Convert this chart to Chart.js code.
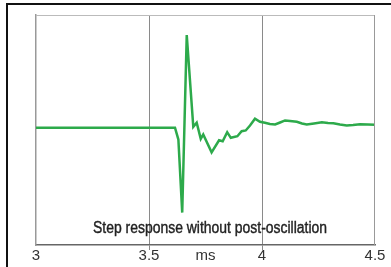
<!DOCTYPE html>
<html>
<head>
<meta charset="utf-8">
<script src="https://cdn.jsdelivr.net/npm/chart.js@4/dist/chart.umd.min.js"></script>
<style>
  html, body { margin: 0; padding: 0; background: #fff; }
  #wrap { width: 391px; height: 267px; }
</style>
</head>
<body>
<div id="wrap"><canvas id="stepChart" width="391" height="267"></canvas></div>
<script>
// time axis (ms) and response amplitude
const timeMs = [3.000, 3.615, 3.630, 3.647, 3.667, 3.696, 3.711, 3.729, 3.740, 3.777,
                3.810, 3.826, 3.846, 3.862, 3.891, 3.910, 3.928, 3.947, 3.969, 3.991,
                4.013, 4.035, 4.058, 4.080, 4.102, 4.124, 4.154, 4.177, 4.198, 4.230,
                4.265, 4.292, 4.316, 4.345, 4.375, 4.403, 4.434, 4.469, 4.500];
const amplitude = [0.000, 0.000, -0.103, -0.738, 0.805, 0.008, 0.043, -0.097, -0.059, -0.214,
                   -0.109, -0.118, -0.039, -0.088, -0.074, -0.031, -0.024, 0.019, 0.078, 0.052,
                   0.043, 0.032, 0.028, 0.045, 0.063, 0.059, 0.052, 0.037, 0.028, 0.037,
                   0.048, 0.041, 0.039, 0.028, 0.019, 0.024, 0.031, 0.028, 0.026];
const tickValues = [3, 3.5, 3.75, 4, 4.5];
const tickLabels = ['3', '3.5', 'ms', '4', '4.5'];
const gridValues = [3.5, 4];
const caption = 'Step response without post-oscillation';

const points = timeMs.map((t, i) => ({ x: t, y: amplitude[i] }));

const framePlugin = {
    id: 'frame',
    afterDraw(chart) {
        const ctx = chart.ctx;
        const area = chart.chartArea;
        ctx.save();
        // outer black frame (top + left)
        ctx.strokeStyle = '#111';
        ctx.lineWidth = 2;
        ctx.beginPath();
        ctx.moveTo(7, chart.height);
        ctx.lineTo(7, 4);
        ctx.lineTo(chart.width, 4);
        ctx.stroke();
        // plot box top and right
        ctx.lineWidth = 1;
        ctx.strokeStyle = '#bbb';
        ctx.beginPath();
        ctx.moveTo(area.left, area.top + 0.5);
        ctx.lineTo(area.right, area.top + 0.5);
        ctx.stroke();
        ctx.strokeStyle = '#999';
        ctx.beginPath();
        ctx.moveTo(area.right - 0.5, area.top);
        ctx.lineTo(area.right - 0.5, area.bottom);
        ctx.stroke();
        // caption, squeezed to a condensed look
        ctx.fillStyle = '#222';
        ctx.strokeStyle = '#222';
        ctx.lineWidth = 0.4;
        ctx.font = '16px "Liberation Sans", Arial, sans-serif';
        ctx.textBaseline = 'middle';
        const w = ctx.measureText(caption).width;
        const cx = chart.scales.x.getPixelForValue(3.77);
        ctx.translate(cx - 117, area.bottom - 16);
        ctx.scale(234 / w, 1);
        ctx.textAlign = 'left';
        ctx.fillText(caption, 0, 0);
        ctx.strokeText(caption, 0, 0);
        ctx.restore();
    }
};

new Chart(document.getElementById('stepChart'), {
    type: 'line',
    data: {
        datasets: [{
            data: points,
            borderColor: '#2daa4b',
            borderWidth: 2.5,
            pointRadius: 0,
            tension: 0,
            fill: false
        }]
    },
    options: {
        responsive: false,
        animation: false,
        layout: { padding: { left: 36, top: 15, right: 16, bottom: 0 } },
        plugins: { legend: { display: false }, tooltip: { enabled: false } },
        scales: {
            x: {
                type: 'linear',
                min: 3, max: 4.5,
                afterBuildTicks: (scale) => { scale.ticks = tickValues.map(v => ({ value: v })); },
                afterFit: (scale) => { scale.height = 22; },
                ticks: {
                    autoSkip: false,
                    maxRotation: 0,
                    padding: -3,
                    color: '#333',
                    font: { family: '"Liberation Sans", Arial, sans-serif', size: 15 },
                    callback: (v) => tickLabels[tickValues.indexOf(v)]
                },
                grid: {
                    color: (c) => gridValues.includes(c.tick && c.tick.value) ? '#8a8a8a' : 'rgba(0,0,0,0)',
                    lineWidth: 1,
                    tickLength: 5
                },
                border: { display: true, color: '#666', width: 1.5 }
            },
            y: {
                min: -1.02, max: 0.98,
                afterFit: (scale) => { scale.width = 0; },
                ticks: { display: false },
                grid: { display: false },
                border: { display: true, color: '#999', width: 1.5 }
            }
        }
    },
    plugins: [framePlugin]
});
</script>
</body>
</html>
